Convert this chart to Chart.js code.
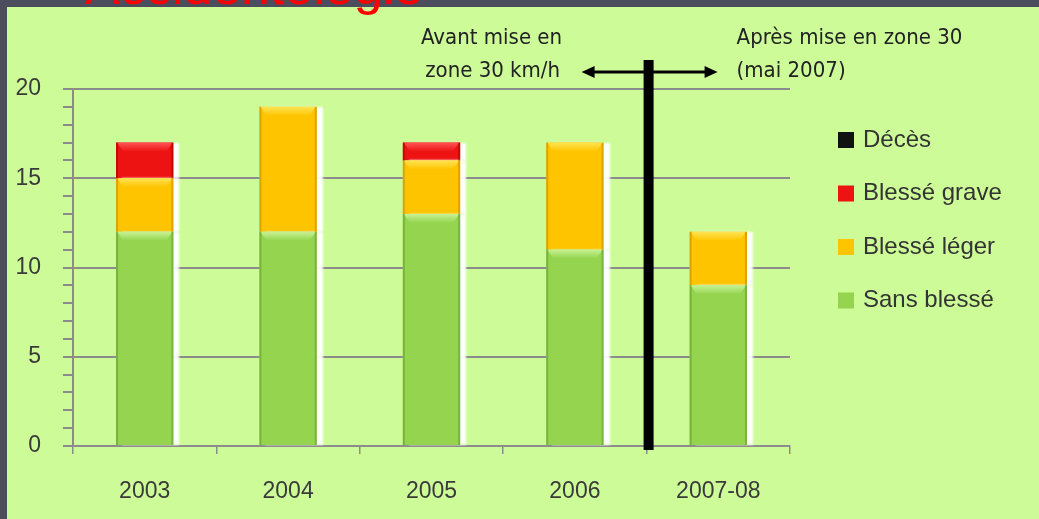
<!DOCTYPE html>
<html>
<head>
<meta charset="utf-8">
<script src="https://cdn.jsdelivr.net/npm/chart.js@4.4.0/dist/chart.umd.min.js"></script>
<style>
    body { margin: 0; background: #4b4c5c; width: 1039px; height: 519px; overflow: hidden; position: relative; }
    #panel { position: absolute; left: 7px; top: 7px; right: 0; bottom: 0; background: #cdfb98; }
    #titre { position: absolute; left: 85px; top: -40px; font: 52px "Liberation Sans", Arial, sans-serif; line-height: 52px; color: #ff0000; white-space: nowrap; }
    #wrap { position: absolute; left: 0; top: 0; width: 1039px; height: 519px; }
</style>
</head>
<body>
<div id="panel"></div>
<div id="titre">Accidentologie</div>
<div id="wrap"><canvas id="myChart"></canvas></div>
<script>
// valeurs
const annees = ['2003', '2004', '2005', '2006', '2007-08'];
const sansBlesse = [12, 12, 13, 11, 9];
const blesseLeger = [3, 7, 3, 6, 3];
const blesseGrave = [2, 0, 1, 0, 0];
const deces = [0, 0, 0, 0, 0];
const yTicks = [0, 5, 10, 15, 20];

const gris = '#8c8c8c';
const police = '"Liberation Sans", Arial, sans-serif';
const policeEtroite = '"Liberation Sans Narrow", "DejaVu Sans Condensed", "Liberation Sans", sans-serif';

// ombre blanche a droite des barres
const ombre = {
    id: 'ombre',
    beforeDatasetsDraw(chart) {
        const ctx = chart.ctx;
        ctx.save();
        ctx.shadowColor = 'rgba(255,255,255,0.95)';
        ctx.shadowOffsetX = 6;
        ctx.shadowOffsetY = 0;
        ctx.shadowBlur = 2;
    },
    afterDatasetsDraw(chart) {
        chart.ctx.restore();
        // relief : bandeau clair en haut, bords plus sombres
        const ctx = chart.ctx;
        chart.data.datasets.forEach((ds, i) => {
            chart.getDatasetMeta(i).data.forEach(bar => {
                const top = Math.min(bar.y, bar.base);
                const h = Math.abs(bar.base - bar.y);
                if (h < 3) return;
                const left = bar.x - bar.width / 2;
                ctx.save();
                const g = ctx.createLinearGradient(0, top, 0, top + 9);
                g.addColorStop(0, ds.highlight);
                g.addColorStop(1, ds.backgroundColor);
                ctx.fillStyle = g;
                ctx.beginPath();
                ctx.moveTo(left + 1, top);
                ctx.lineTo(left + bar.width - 1, top);
                ctx.lineTo(left + bar.width - 7, top + 9);
                ctx.lineTo(left + 7, top + 9);
                ctx.closePath();
                ctx.fill();
                ctx.fillStyle = ds.dark;
                ctx.globalAlpha = 0.55;
                ctx.fillRect(left, top, 2, h);
                ctx.fillRect(left + bar.width - 2, top, 2, h);
                ctx.restore();
            });
        });
    }
};

// trait vertical, fleche et textes
const separation = {
    id: 'separation',
    afterDraw(chart) {
        const ctx = chart.ctx;
        const x = chart.scales.x;
        const xs = (x.getPixelForValue(3) + x.getPixelForValue(4)) / 2 + 2;
        ctx.save();
        ctx.fillStyle = '#000';
        ctx.fillRect(xs - 5, 60, 10, 390);

        const ya = 72;
        ctx.strokeStyle = '#000';
        ctx.lineWidth = 3;
        ctx.beginPath();
        ctx.moveTo(xs - 58, ya);
        ctx.lineTo(xs + 58, ya);
        ctx.stroke();
        ctx.beginPath();
        ctx.moveTo(xs - 67, ya);
        ctx.lineTo(xs - 54, ya - 6);
        ctx.lineTo(xs - 54, ya + 6);
        ctx.closePath();
        ctx.moveTo(xs + 69, ya);
        ctx.lineTo(xs + 56, ya - 6);
        ctx.lineTo(xs + 56, ya + 6);
        ctx.closePath();
        ctx.fill();

        ctx.fillStyle = '#222';
        ctx.font = '22px ' + policeEtroite;
        ctx.textBaseline = 'middle';
        ctx.textAlign = 'center';
        ctx.fillText('Avant mise en', xs - 157, 38);
        ctx.fillText('zone 30 km/h', xs - 156, 71);
        ctx.textAlign = 'left';
        ctx.fillText('Après mise en zone 30', xs + 88, 38);
        ctx.fillText('(mai 2007)', xs + 88, 71);
        ctx.restore();
    }
};

// legende a droite
const legende = {
    id: 'legende',
    afterDraw(chart) {
        const ctx = chart.ctx;
        const sets = chart.data.datasets.slice().reverse();
        ctx.save();
        ctx.font = '24px ' + police;
        ctx.textBaseline = 'middle';
        ctx.textAlign = 'left';
        sets.forEach((ds, i) => {
            const y = chart.chartArea.top + 51 + i * 53.5;
            const x = 838;
            ctx.fillStyle = ds.backgroundColor;
            ctx.fillRect(x, y - 8, 16, 16);
            ctx.fillStyle = '#333';
            ctx.fillText(ds.label, x + 25, y);
        });
        ctx.restore();
    }
};

const ctx = document.getElementById('myChart').getContext('2d');
const myChart = new Chart(ctx, {
    type: 'bar',
    data: {
        labels: annees,
        datasets: [
            { label: 'Sans blessé', data: sansBlesse, backgroundColor: '#94d44f', highlight: '#c8f294', dark: '#5f9a2c' },
            { label: 'Blessé léger', data: blesseLeger, backgroundColor: '#ffc400', highlight: '#ffe454', dark: '#c08a00' },
            { label: 'Blessé grave', data: blesseGrave, backgroundColor: '#ee1313', highlight: '#ff5555', dark: '#a00000' },
            { label: 'Décès', data: deces, backgroundColor: '#111111', highlight: '#555555', dark: '#000000' }
        ]
    },
    options: {
        responsive: true,
        maintainAspectRatio: false,
        animation: false,
        layout: { padding: { left: 0, top: 89, right: 249, bottom: 0 } },
        datasets: { bar: { categoryPercentage: 1, barPercentage: 0.4, borderWidth: 0 } },
        plugins: { legend: { display: false }, tooltip: { enabled: false } },
        scales: {
            x: {
                stacked: true,
                afterFit(s) { s.height = 73; },
                grid: { drawOnChartArea: false, color: gris, tickLength: 8, lineWidth: 1.5 },
                border: { color: gris, width: 2 },
                ticks: { color: '#3a3a3a', padding: 24, font: { size: 23, family: police } }
            },
            y: {
                stacked: true,
                min: 0,
                max: 20,
                afterFit(s) { s.width = 73; },
                afterBuildTicks(s) {
                    s.ticks = [];
                    for (let v = 0; v <= 20; v++) s.ticks.push({ value: v });
                },
                grid: {
                    color: c => (yTicks.includes(c.tick.value) && c.tick.value > 0 ? gris : 'rgba(0,0,0,0)'),
                    tickColor: gris,
                    lineWidth: 2,
                    tickLength: 10
                },
                border: { color: gris, width: 2 },
                ticks: {
                    autoSkip: false,
                    color: '#3a3a3a',
                    padding: 22,
                    font: { size: 23, family: police },
                    callback: v => (yTicks.includes(v) ? String(v) : '')
                }
            }
        }
    },
    plugins: [ombre, separation, legende]
});
</script>
</body>
</html>
